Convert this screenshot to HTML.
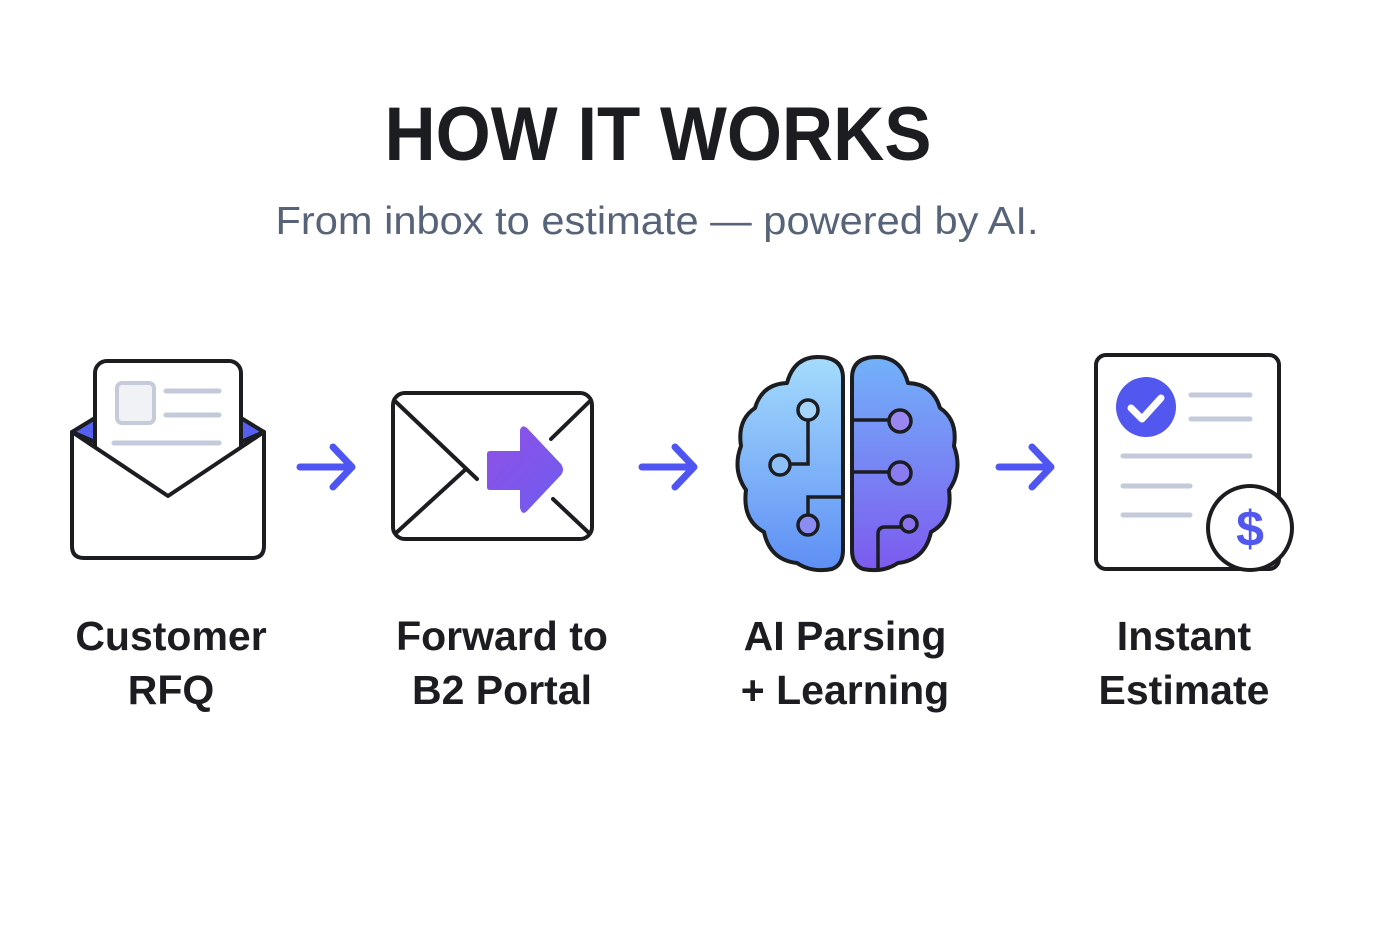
<!DOCTYPE html>
<html><head><meta charset="utf-8"><style>
html,body{margin:0;padding:0;background:#fff;}
svg{display:block;}
</style></head><body>
<svg width="1400" height="933" viewBox="0 0 1400 933" xmlns="http://www.w3.org/2000/svg">
<defs>
<linearGradient id="gl" x1="0" y1="0" x2="0" y2="1"><stop offset="0" stop-color="#a4dcfc"/><stop offset="1" stop-color="#5d8ef5"/></linearGradient>
<linearGradient id="gr" x1="0" y1="0" x2="0" y2="1"><stop offset="0" stop-color="#72b2f9"/><stop offset="1" stop-color="#7d5aef"/></linearGradient>
<linearGradient id="ga" x1="0" y1="0" x2="1" y2="1"><stop offset="0" stop-color="#9050e6"/><stop offset="1" stop-color="#6f5cf0"/></linearGradient>
</defs>
<rect width="1400" height="933" fill="#fff"/>
<text x="658" y="160" text-anchor="middle" font-family="Liberation Sans, sans-serif" font-weight="bold" font-size="76" fill="#1b1d21" textLength="547" lengthAdjust="spacingAndGlyphs">HOW IT WORKS</text>
<text x="657" y="234" text-anchor="middle" font-family="Liberation Sans, sans-serif" font-size="39" fill="#566378" textLength="763" lengthAdjust="spacingAndGlyphs">From inbox to estimate — powered by AI.</text>

<g font-family="Liberation Sans, sans-serif" font-weight="bold" font-size="41" fill="#1b1d21" text-anchor="middle">
<text x="171" y="650">Customer</text><text x="171" y="704">RFQ</text>
<text x="502" y="650">Forward to</text><text x="502" y="704">B2 Portal</text>
<text x="845" y="650">AI Parsing</text><text x="845" y="704">+ Learning</text>
<text x="1184" y="650">Instant</text><text x="1184" y="704">Estimate</text>
</g>

<!-- arrows -->
<g stroke="#4f55f2" stroke-width="7" stroke-linecap="round" stroke-linejoin="round" fill="none">
<path d="M300 467 H350 M333 447 L352 467 L333 487"/>
<path d="M642 467 H692 M675 447 L694 467 L675 487"/>
<path d="M999 467 H1049 M1032 447 L1051 467 L1032 487"/>
</g>

<!-- envelope 1 -->
<g stroke="#1b1d21" stroke-width="4" stroke-linejoin="round">
<path d="M72 432 L95 418 V442 Z" fill="#5560f0"/>
<path d="M264 432 L241 418 V442 Z" fill="#5560f0"/>
<rect x="95" y="361" width="146" height="150" rx="12" fill="#fff"/>
<path d="M72 432 L168 496 L264 432 V546 Q264 558 252 558 H84 Q72 558 72 546 Z" fill="#fff"/>
</g>
<rect x="117" y="383" width="37" height="40" rx="5" fill="#f1f2f5" stroke="#c5cbda" stroke-width="4"/>
<g stroke="#c3cad9" stroke-width="5" stroke-linecap="round">
<path d="M166 391 H219 M166 415 H219 M114 443 H219"/>
</g>

<!-- envelope 2 -->
<rect x="393" y="393" width="199" height="146" rx="12" fill="#fff" stroke="#1b1d21" stroke-width="4"/>
<g stroke="#1b1d21" stroke-width="4" stroke-linecap="round">
<path d="M396 402 L477 479 M396 533 L466 469 M589 402 L551 439 M589 533 L553 499"/>
</g>
<path d="M490 451 H520 V430 Q522 424 527 428 L561 464 Q565 470 561 475 L527 511 Q522 516 520 508 V490 H490 Q487 490 487 487 V454 Q487 451 490 451 Z" fill="url(#ga)"/>

<!-- brain -->
<g stroke="#1b1d21" stroke-width="4" stroke-linejoin="round">
<path d="M843 378 Q843 357 818 357 Q794 357 787 383 Q762 384 755 408 Q737 420 741 446 Q732 470 746 490 Q742 520 764 532 Q770 560 797 563 Q812 573 832 569 Q843 565 843 550 Z" fill="url(#gl)"/>
<path d="M852 378 Q852 357 877 357 Q901 357 908 383 Q933 384 940 408 Q958 420 954 446 Q963 470 949 490 Q953 520 931 532 Q925 560 898 563 Q883 573 863 569 Q852 565 852 550 Z" fill="url(#gr)"/>
</g>
<g stroke="#1b1d21" stroke-width="3.5" fill="none">
<path d="M808 420 V464 H790"/>
<path d="M843 497 H808 V515"/>
<path d="M852 420 H889 M852 472 H889"/>
<path d="M878 568 V534 Q878 527 885 527 H901"/>
</g>
<g stroke="#1b1d21" stroke-width="3.5">
<circle cx="808" cy="410" r="10" fill="#a5d5fb"/>
<circle cx="780" cy="465" r="10" fill="#8ec0f8"/>
<circle cx="808" cy="525" r="10" fill="#8b8df4"/>
<circle cx="900" cy="421" r="11" fill="#9a86f0"/>
<circle cx="900" cy="473" r="11" fill="#8a7cf0"/>
<circle cx="909" cy="524" r="8" fill="#8a72ee"/>
</g>

<!-- document -->
<rect x="1096" y="355" width="183" height="214" rx="10" fill="#fff" stroke="#1b1d21" stroke-width="4"/>
<circle cx="1146" cy="407" r="30" fill="#5257ef"/>
<path d="M1131 408 L1142 419 L1161 398" stroke="#fff" stroke-width="7" stroke-linecap="round" stroke-linejoin="round" fill="none"/>
<g stroke="#c3cad9" stroke-width="5" stroke-linecap="round">
<path d="M1191 395 H1250 M1191 419 H1250 M1123 456 H1250 M1123 486 H1190 M1123 515 H1190"/>
</g>
<circle cx="1250" cy="528" r="42" fill="#fff" stroke="#1b1d21" stroke-width="4"/>
<text x="1250" y="546" text-anchor="middle" font-family="Liberation Sans, sans-serif" font-weight="bold" font-size="50" fill="#5257ef">$</text>
</svg>
</body></html>
